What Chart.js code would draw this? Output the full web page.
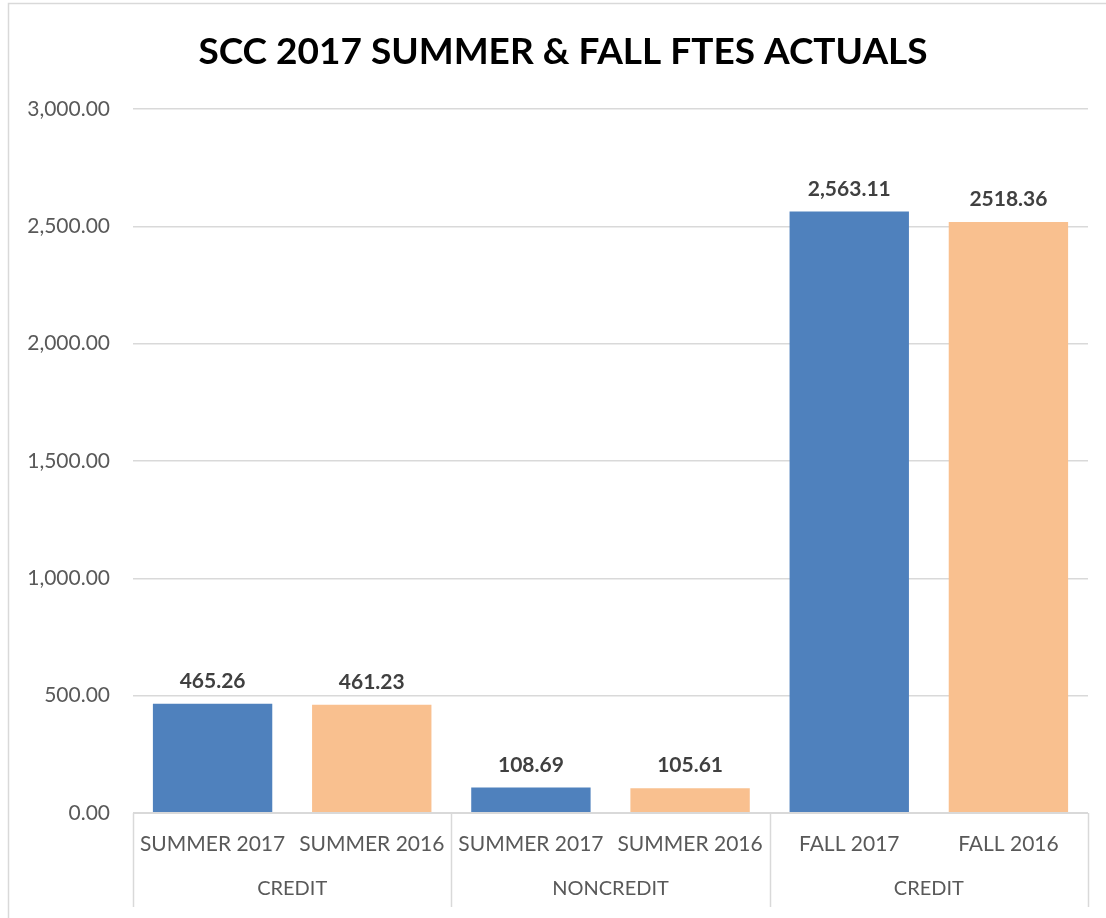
<!DOCTYPE html>
<html>
<head>
<meta charset="utf-8">
<script src="https://cdn.jsdelivr.net/npm/chart.js@4.4.0/dist/chart.umd.min.js"></script>
<style>
html,body{margin:0;padding:0;background:#fff}
#wrap{width:1106px;height:918px;position:relative}
</style>
</head>
<body>
<div id="wrap"><canvas id="myChart"></canvas></div>
<script>
// data
const chartTitle = 'SCC 2017 SUMMER & FALL FTES ACTUALS'
const periods = ['SUMMER 2017', 'SUMMER 2016', 'SUMMER 2017', 'SUMMER 2016', 'FALL 2017', 'FALL 2016']
const ftes = [465.26, 461.23, 108.69, 105.61, 2563.11, 2518.36]
const valueLabels = ['465.26', '461.23', '108.69', '105.61', '2,563.11', '2518.36']
const groups = ['CREDIT', 'NONCREDIT', 'CREDIT']
const groupSizes = [2, 2, 2]
const yMin = 0, yMax = 3000, yStep = 500

const barColors = ['#4F81BD', '#F9C08F', '#4F81BD', '#F9C08F', '#4F81BD', '#F9C08F']
const FONT = 'Lato, Calibri, sans-serif'
const GRID = '#d9d9d9'

// frame around whole chart (left/top visible, rest cut off) + title
const framePlugin = {
    id: 'frame',
    beforeDraw(chart) {
        const c = chart.ctx
        c.save()
        c.strokeStyle = GRID
        c.lineWidth = 1.5
        c.strokeRect(8.5, 3.5, chart.width + 20, chart.height + 20)
        c.font = 'bold 37px ' + FONT
        c.fillStyle = '#000'
        c.textAlign = 'center'
        c.textBaseline = 'middle'
        c.fillText(chartTitle, 563, 52)
        c.restore()
    }
}

// value labels above bars
const valuePlugin = {
    id: 'values',
    afterDatasetsDraw(chart) {
        const c = chart.ctx
        const meta = chart.getDatasetMeta(0)
        c.save()
        c.font = 'bold 21px ' + FONT
        c.fillStyle = '#404040'
        c.textAlign = 'center'
        c.textBaseline = 'bottom'
        meta.data.forEach((bar, i) => {
            c.fillText(valueLabels[i], bar.x, bar.y - 12)
        })
        c.restore()
    }
}

// second axis row: group names + separators
const groupPlugin = {
    id: 'groups',
    afterDraw(chart) {
        const c = chart.ctx
        const a = chart.chartArea
        const w = (a.right - a.left) / periods.length
        c.save()
        c.strokeStyle = GRID
        c.lineWidth = 2
        c.beginPath()
        c.moveTo(a.left, a.bottom)
        c.lineTo(a.right, a.bottom)
        c.stroke()
        c.lineWidth = 1.5
        let idx = 0
        const edges = [0]
        groupSizes.forEach(n => { idx += n; edges.push(idx) })
        edges.forEach(e => {
            const x = Math.round(a.left + e * w) + 0.5
            c.beginPath()
            c.moveTo(x, a.bottom)
            c.lineTo(x, 907)
            c.stroke()
        })
        c.font = '20px ' + FONT
        c.fillStyle = '#595959'
        c.textAlign = 'center'
        c.textBaseline = 'middle'
        groups.forEach((g, i) => {
            const x = a.left + (edges[i] + edges[i + 1]) / 2 * w
            c.fillText(g, x, 889)
        })
        c.restore()
    }
}

const chart = new Chart(document.getElementById('myChart'), {
    type: 'bar',
    data: {
        labels: periods,
        datasets: [{
            data: ftes,
            backgroundColor: barColors,
            barPercentage: 0.75,
            categoryPercentage: 1
        }]
    },
    options: {
        responsive: true,
        maintainAspectRatio: false,
        animation: false,
        layout: { padding: { left: 0, right: 18, top: 109, bottom: 0 } },
        plugins: {
            legend: { display: false },
            tooltip: { enabled: false },
            title: { display: false }
        },
        scales: {
            x: {
                grid: { display: false, drawTicks: false },
                border: { display: false },
                ticks: {
                    color: '#595959',
                    font: { family: FONT, size: 21 },
                    padding: 19,
                    maxRotation: 0,
                    autoSkip: false
                },
                afterFit(s) { s.height = 105 }
            },
            y: {
                min: yMin,
                max: yMax,
                grid: { color: GRID, lineWidth: 1.5, drawTicks: false },
                border: { display: false },
                ticks: {
                    stepSize: yStep,
                    color: '#595959',
                    font: { family: FONT, size: 21 },
                    padding: 23,
                    callback: v => v.toLocaleString('en-US', { minimumFractionDigits: 2, maximumFractionDigits: 2 })
                },
                afterFit(s) { s.width = 133 }
            }
        }
    },
    plugins: [framePlugin, valuePlugin, groupPlugin]
})
</script>
</body>
</html>
